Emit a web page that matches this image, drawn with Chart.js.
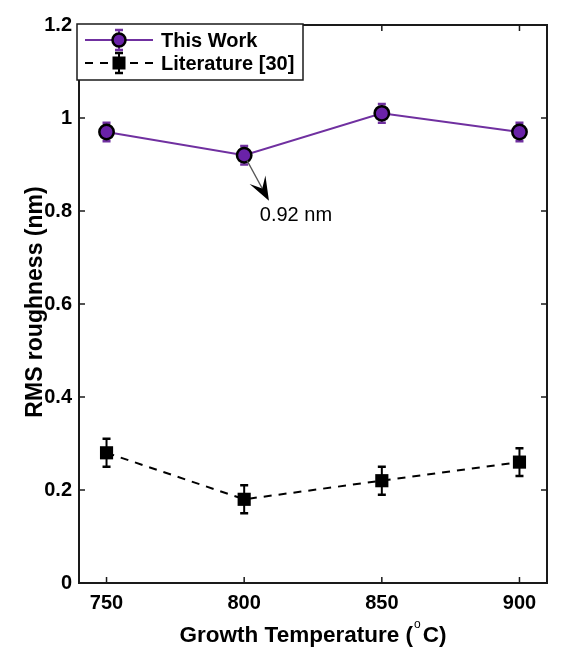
<!DOCTYPE html>
<html><head><meta charset="utf-8">
<script src="https://cdn.jsdelivr.net/npm/chart.js@4.4.0/dist/chart.umd.min.js"></script>
<style>html,body{margin:0;padding:0;background:#fff;overflow:hidden}#wrap{width:582px;height:660px;position:relative}canvas{display:block}</style>
</head><body><div id="wrap"><canvas id="c" width="582" height="660"></canvas></div>
<script>
// ---- data ----
const temperatures = [750, 800, 850, 900];
const thisWork = [0.97, 0.92, 1.01, 0.97];
const thisWorkErr = [0.02, 0.02, 0.02, 0.02];
const literature = [0.28, 0.18, 0.22, 0.26];
const literatureErr = [0.03, 0.03, 0.03, 0.03];
const xTicks = [750, 800, 850, 900];
const yTicks = [0, 0.2, 0.4, 0.6, 0.8, 1.0, 1.2];
const yTickLabels = ['0', '0.2', '0.4', '0.6', '0.8', '1', '1.2'];
const seriesNames = ['This Work', 'Literature [30]'];
const xTitle = ['Growth Temperature (', 'o', 'C)'];
const yTitle = 'RMS roughness (nm)';
const noteText = '0.92 nm';
const notePoint = {x: 800, y: 0.92};
const noteTip = {x: 809, y: 0.822};
const noteLabel = {x: 818.8, y: 0.791};

// ---- styles ----
const FONT = '"Liberation Sans", Arial, Helvetica, sans-serif';
const PURPLE_LINE = '#7030a0';
const PURPLE_FILL = '#6a22a8';

const toPts = (xs, ys) => xs.map((x, i) => ({x: x, y: ys[i]}));

function drawErrBar(ctx, x, y1, y2, color) {
  ctx.save();
  ctx.strokeStyle = color;
  ctx.lineWidth = 2;
  ctx.beginPath();
  ctx.moveTo(x, y1); ctx.lineTo(x, y2);
  ctx.stroke();
  ctx.lineWidth = 2.5;
  ctx.beginPath();
  ctx.moveTo(x - 4, y1); ctx.lineTo(x + 4, y1);
  ctx.moveTo(x - 4, y2); ctx.lineTo(x + 4, y2);
  ctx.stroke();
  ctx.restore();
}

const errorBars = {
  id: 'errorBars',
  beforeDatasetsDraw(chart) {
    const ctx = chart.ctx, xs = chart.scales.x, ys = chart.scales.y;
    chart.data.datasets.forEach(ds => {
      ds.data.forEach((p, j) => {
        const x = xs.getPixelForValue(p.x);
        drawErrBar(ctx, x, ys.getPixelForValue(p.y + ds.errors[j]), ys.getPixelForValue(p.y - ds.errors[j]), ds.errColor);
      });
    });
  }
};

const decor = {
  id: 'decor',
  afterDatasetsDraw(chart) {
    const ctx = chart.ctx, ca = chart.chartArea, xs = chart.scales.x, ys = chart.scales.y;
    ctx.save();
    // box
    ctx.strokeStyle = '#1a1a1a'; ctx.lineWidth = 2;
    ctx.strokeRect(ca.left, ca.top, ca.right - ca.left, ca.bottom - ca.top);
    // inward ticks
    ctx.lineWidth = 1.5;
    ctx.beginPath();
    xs.ticks.forEach(t => {
      const x = xs.getPixelForValue(t.value);
      ctx.moveTo(x, ca.bottom); ctx.lineTo(x, ca.bottom - 6);
      ctx.moveTo(x, ca.top); ctx.lineTo(x, ca.top + 6);
    });
    ys.ticks.forEach(t => {
      const y = ys.getPixelForValue(t.value);
      ctx.moveTo(ca.left, y); ctx.lineTo(ca.left + 6, y);
      ctx.moveTo(ca.right, y); ctx.lineTo(ca.right - 6, y);
    });
    ctx.stroke();

    // annotation arrow
    const ox = xs.getPixelForValue(notePoint.x), oy = ys.getPixelForValue(notePoint.y);
    const tx = xs.getPixelForValue(noteTip.x), ty = ys.getPixelForValue(noteTip.y);
    let dx = tx - ox, dy = ty - oy; const len = Math.hypot(dx, dy); dx /= len; dy /= len;
    const nx = -dy, ny = dx;
    const L = 24, W = 9, N = 10;
    ctx.strokeStyle = '#555'; ctx.lineWidth = 1.4;
    ctx.beginPath();
    ctx.moveTo(ox + dx * 6, oy + dy * 6);
    ctx.lineTo(tx - dx * (L - N), ty - dy * (L - N));
    ctx.stroke();
    ctx.fillStyle = '#000';
    ctx.beginPath();
    ctx.moveTo(tx, ty);
    ctx.lineTo(tx - dx * L + nx * W, ty - dy * L + ny * W);
    ctx.lineTo(tx - dx * (L - N), ty - dy * (L - N));
    ctx.lineTo(tx - dx * L - nx * W, ty - dy * L - ny * W);
    ctx.closePath();
    ctx.fill();
    ctx.font = '20px ' + FONT;
    ctx.textAlign = 'center'; ctx.textBaseline = 'middle';
    ctx.fillText(noteText, xs.getPixelForValue(noteLabel.x), ys.getPixelForValue(noteLabel.y));

    // legend
    const lx = ca.left - 2, ly = ca.top - 1, lw = 226, lh = 56;
    ctx.fillStyle = '#fff';
    ctx.fillRect(lx, ly, lw, lh);
    ctx.strokeStyle = '#1a1a1a'; ctx.lineWidth = 1.5;
    ctx.strokeRect(lx, ly, lw, lh);
    const rows = [ly + 16, ly + 39];
    const x0 = lx + 8, x1 = lx + 76, xm = lx + 42;
    // row 1
    ctx.strokeStyle = PURPLE_LINE; ctx.lineWidth = 2;
    ctx.beginPath(); ctx.moveTo(x0, rows[0]); ctx.lineTo(x1, rows[0]); ctx.stroke();
    drawErrBar(ctx, xm, rows[0] - 10, rows[0] + 10, PURPLE_LINE);
    ctx.beginPath(); ctx.arc(xm, rows[0], 6.5, 0, Math.PI * 2);
    ctx.fillStyle = PURPLE_FILL; ctx.fill();
    ctx.strokeStyle = '#000'; ctx.lineWidth = 2.5; ctx.stroke();
    // row 2
    ctx.strokeStyle = '#000'; ctx.lineWidth = 2; ctx.setLineDash([8, 7]);
    ctx.beginPath(); ctx.moveTo(x0, rows[1]); ctx.lineTo(x1, rows[1]); ctx.stroke();
    ctx.setLineDash([]);
    drawErrBar(ctx, xm, rows[1] - 10, rows[1] + 10, '#000');
    ctx.fillStyle = '#000';
    ctx.fillRect(xm - 6.5, rows[1] - 6.5, 13, 13);
    ctx.font = 'bold 20px ' + FONT;
    ctx.textAlign = 'left'; ctx.textBaseline = 'middle';
    ctx.fillStyle = '#000';
    ctx.fillText(seriesNames[0], lx + 84, rows[0] + 1);
    ctx.fillText(seriesNames[1], lx + 84, rows[1] + 1);

    // axis titles
    ctx.fillStyle = '#000';
    ctx.textBaseline = 'alphabetic';
    const big = 'bold 22.5px ' + FONT, small = '12px ' + FONT;
    ctx.font = big; const w1 = ctx.measureText(xTitle[0]).width, w3 = ctx.measureText(xTitle[2]).width;
    ctx.font = small; const w2 = ctx.measureText(xTitle[1]).width + 3;
    const total = w1 + w2 + w3;
    const cx = (ca.left + ca.right) / 2;
    let sx = cx - total / 2; const by = ca.bottom + 59;
    ctx.textAlign = 'left';
    ctx.font = big; ctx.fillText(xTitle[0], sx, by);
    ctx.font = small; ctx.fillText(xTitle[1], sx + w1 + 1, by - 14);
    ctx.font = big; ctx.fillText(xTitle[2], sx + w1 + w2, by);

    ctx.translate(42, (ca.top + ca.bottom) / 2 - 2);
    ctx.rotate(-Math.PI / 2);
    ctx.textAlign = 'center';
    ctx.font = 'bold 23px ' + FONT;
    ctx.fillText(yTitle, 0, 0);
    ctx.restore();
  }
};

new Chart(document.getElementById('c'), {
  type: 'line',
  data: {
    datasets: [
      {
        label: seriesNames[0],
        data: toPts(temperatures, thisWork),
        errors: thisWorkErr, errColor: PURPLE_LINE,
        borderColor: PURPLE_LINE, borderWidth: 2,
        pointStyle: 'circle', pointRadius: 7.2, pointBorderWidth: 2.5,
        pointBackgroundColor: PURPLE_FILL, pointBorderColor: '#000',
        tension: 0
      },
      {
        label: seriesNames[1],
        data: toPts(temperatures, literature),
        errors: literatureErr, errColor: '#000',
        borderColor: '#000', borderWidth: 2, borderDash: [8, 7],
        pointStyle: 'rect', pointRadius: 9.3, pointBorderWidth: 0,
        pointBackgroundColor: '#000', pointBorderColor: '#000',
        tension: 0
      }
    ]
  },
  options: {
    responsive: false,
    animation: false,
    devicePixelRatio: 1,
    layout: {padding: {left: 0, right: 35, top: 25, bottom: 0}},
    plugins: {legend: {display: false}, tooltip: {enabled: false}},
    scales: {
      x: {
        type: 'linear', min: 740, max: 910,
        afterBuildTicks: s => { s.ticks = xTicks.map(v => ({value: v})); },
        afterFit: s => { s.height = 77; },
        grid: {display: false, drawTicks: false, tickLength: 0}, border: {display: false},
        ticks: {color: '#000', font: {family: FONT, size: 20, weight: 'bold'}, padding: 8, maxRotation: 0}
      },
      y: {
        type: 'linear', min: 0, max: 1.2,
        afterBuildTicks: s => { s.ticks = yTicks.map(v => ({value: v})); },
        afterFit: s => { s.width = 79; },
        grid: {display: false, drawTicks: false, tickLength: 0}, border: {display: false},
        ticks: {color: '#000', font: {family: FONT, size: 20, weight: 'bold'}, padding: 7,
          callback: (v, i) => yTickLabels[i]}
      }
    }
  },
  plugins: [errorBars, decor]
});
</script></body></html>
